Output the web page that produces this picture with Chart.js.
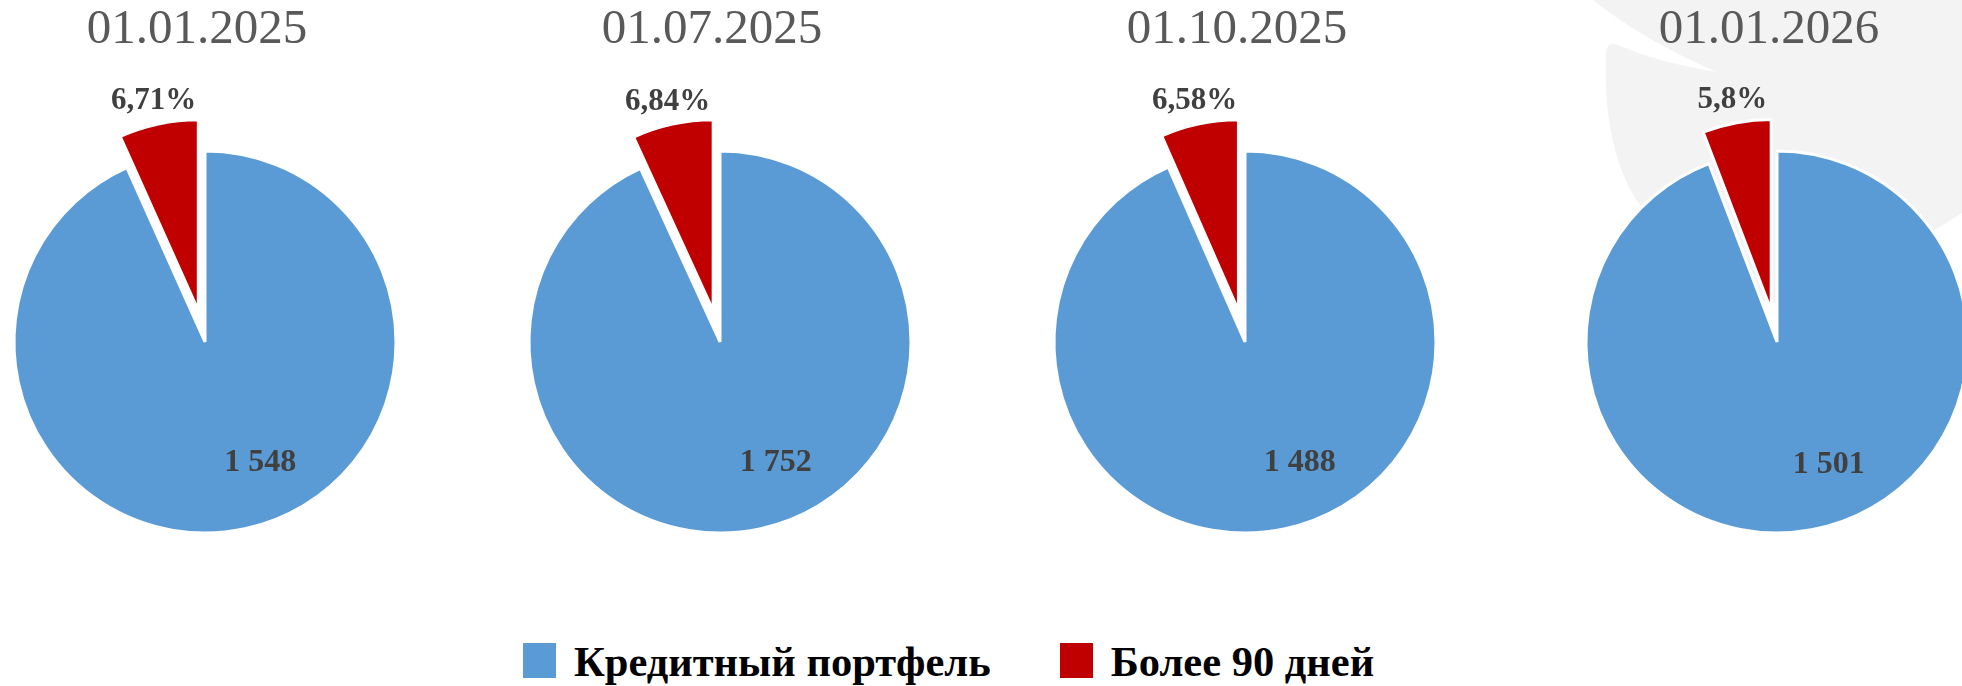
<!DOCTYPE html>
<html lang="ru">
<head>
<meta charset="utf-8">
<title>Кредитный портфель</title>
<script src="https://cdn.jsdelivr.net/npm/chart.js@4.4.1/dist/chart.umd.min.js"></script>
<style>
  html, body { margin: 0; padding: 0; background: #fff; }
  body { width: 1962px; height: 686px; position: relative; overflow: hidden; }
  #deco { position: absolute; left: 0; top: 0; }
  canvas.pie { position: absolute; top: -1px; }
  #legend { position: absolute; left: 523px; top: 641px; display: flex; align-items: flex-start;
    font: bold 42.5px "Liberation Serif", "Times New Roman", serif; line-height: 42px; color: #000; white-space: nowrap; }
  #legend .item { display: flex; align-items: flex-start; }
  #legend .item + .item { margin-left: 69px; }
  #legend .sw { width: 33px; height: 35px; margin-top: 2px; margin-right: 18px; }
</style>
</head>
<body>
<!-- decorative background leaf from the slide -->
<svg id="deco" width="1962" height="686">
  <path fill="#f3f3f3" d="M1593,0 C1620,22 1665,50 1717,72 C1680,66 1645,57 1618,45 Q1606,41 1606,54 C1604,110 1612,165 1640,205 Q1780,390 1933,231 L1962,213 L1962,0 Z"/>
</svg>
<div id="legend"></div>
<script>
/* Credit portfolio vs >90 days overdue, four reporting dates. */
const dates = ["01.01.2025", "01.07.2025", "01.10.2025", "01.01.2026"];
const seriesLabels = ["Кредитный портфель", "Более 90 дней"];
const portfolio = [1548, 1752, 1488, 1501];
const overdue = [111.3, 128.6, 104.8, 92.4];
const overdueShare = [6.71, 6.84, 6.58, 5.8];

const colors = ["#5B9BD5", "#C00000"];
const centersX = [205, 720, 1245, 1777];
const CW = 500, CH = 686, R = 191, EXPLODE = 32;
const serif = '"Liberation Serif", "Times New Roman", serif';

const fmtNum = (v) => String(v).replace(/\B(?=(\d{3})+(?!\d))/g, " ");
const fmtPct = (v) => String(v).replace(".", ",") + "%";

// pull exploded slices out along their mid-angle
const explode = {
  id: "explode",
  afterDatasetUpdate(chart, args, opts) {
    args.meta.data.forEach((arc, i) => {
      const d = (opts.offsets || [])[i] || 0;
      if (!d) return;
      const mid = (arc.startAngle + arc.endAngle) / 2;
      arc.x += Math.cos(mid) * d;
      arc.y += Math.sin(mid) * d;
    });
  }
};

// date heading + slice labels
const pieText = {
  id: "pieText",
  afterDatasetsDraw(chart, args, opts) {
    const { ctx, chartArea } = chart;
    const cx = (chartArea.left + chartArea.right) / 2;
    const arcs = chart.getDatasetMeta(0).data;
    ctx.save();
    ctx.textAlign = "center";
    ctx.fillStyle = "#595959";
    ctx.font = "49px " + serif;
    ctx.textBaseline = "alphabetic";
    ctx.fillText(opts.heading, cx - 8, 44);

    ctx.fillStyle = "#404040";
    ctx.textBaseline = "middle";
    // big slice: value inside
    const a0 = arcs[0], m0 = (a0.startAngle + a0.endAngle) / 2 - 0.218;
    ctx.font = "bold 32px " + serif;
    ctx.fillText(opts.valueText, a0.x + Math.cos(m0) * a0.outerRadius * 0.696, a0.y + Math.sin(m0) * a0.outerRadius * 0.696);
    // small slice: share outside
    const a1 = arcs[1], m1 = (a1.startAngle + a1.endAngle) / 2;
    ctx.font = "bold 31px " + serif;
    ctx.fillText(opts.shareText, a1.x + Math.cos(m1) * (a1.outerRadius + 23), a1.y + Math.sin(m1) * (a1.outerRadius + 23));
    ctx.restore();
  }
};

dates.forEach((d, i) => {
  const cv = document.createElement("canvas");
  cv.className = "pie";
  cv.width = CW; cv.height = CH;
  cv.style.left = (centersX[i] - CW / 2) + "px";
  document.body.appendChild(cv);
  new Chart(cv, {
    type: "pie",
    data: { labels: seriesLabels, datasets: [{ data: [portfolio[i], overdue[i]],
      backgroundColor: colors, borderColor: "#fff", borderWidth: 3 }] },
    options: {
      responsive: false, animation: false, events: [], radius: R,
      layout: { padding: 0 },
      plugins: { legend: { display: false }, tooltip: { enabled: false }, title: { display: false },
        explode: { offsets: [0, EXPLODE] },
        pieText: { heading: d, valueText: fmtNum(portfolio[i]), shareText: fmtPct(overdueShare[i]) } }
    },
    plugins: [explode, pieText]
  });
});

// shared legend
document.getElementById("legend").innerHTML = seriesLabels.map((l, i) =>
  `<div class="item"><span class="sw" style="background:${colors[i]}"></span><span>${l}</span></div>`).join("");
</script>
</body>
</html>
